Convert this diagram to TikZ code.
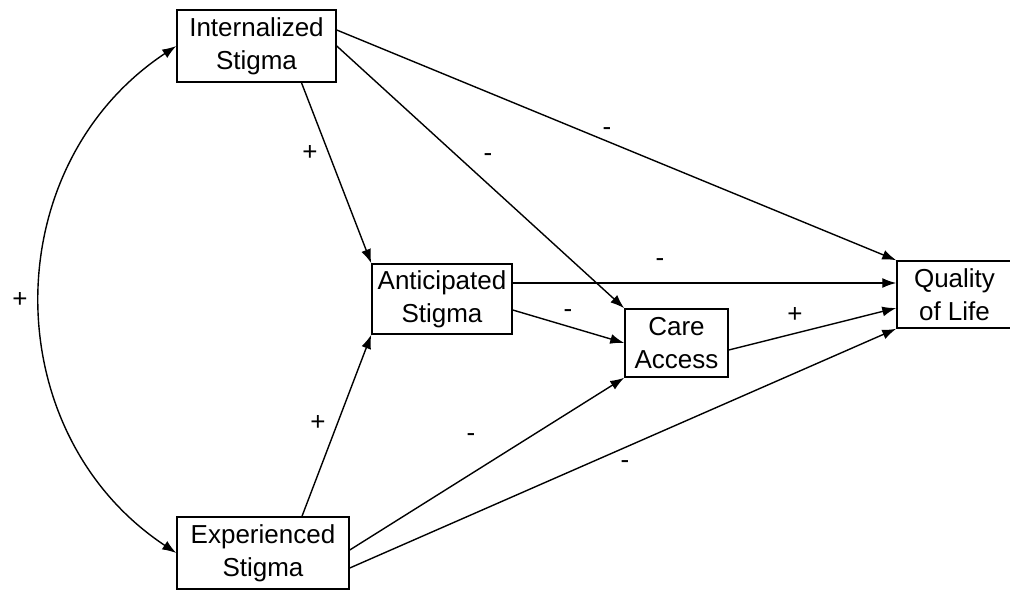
\documentclass[tikz,border=0pt]{standalone}
\usepackage{fontspec}
\setmainfont{Liberation Sans}
\usetikzlibrary{arrows.meta}
\begin{document}
\begin{tikzpicture}[x=1pt,y=-1pt,
  box/.style={draw,line width=1.5pt,inner sep=0pt,align=center,
    font=\fontsize{26}{33}\selectfont},
  arr/.style={line width=1.4pt,-{Latex[length=14pt,width=10pt]}},
  sign/.style={font=\fontsize{26}{30}\selectfont,inner sep=0pt}]
\useasboundingbox (0,0) rectangle (1010,591);
\node[box,minimum width=159pt,minimum height=72pt] (int) at (256.5,46) {Internalized\\Stigma};
\node[box,minimum width=140pt,minimum height=70pt] (ant) at (442,299) {Anticipated\\Stigma};
\node[box,minimum width=103pt,minimum height=68pt] (care) at (676.5,343) {Care\\Access};
\node[box,minimum width=115pt,minimum height=67pt] (qol) at (954.5,294.5) {Quality\\of Life};
\node[box,minimum width=172pt,minimum height=72pt] (exp) at (263,553) {Experienced\\Stigma};
% curved covariance
\draw[arr,{Latex[length=14pt,width=10pt]}-{Latex[length=14pt,width=10pt]}]
  (exp.west) .. controls (-4.7,433) and (-4.7,166) .. (int.west);
\node[sign] (s0) at (20,300) {+};
% paths
\draw[arr] ([yshift=16pt]int.east) -- (qol.north west);
\node[sign] (s1) at (607,132) {-};
\draw[arr] (int.east) -- (care.north west);
\node[sign] (s2) at (488,158) {-};
\draw[arr] ([xshift=45pt]int.south) -- (ant.north west);
\node[sign] (s3) at (310,153) {+};
\draw[arr] ([yshift=16pt]ant.east) coordinate (aq) -- (aq -| qol.west);
\node[sign] (s4) at (660,263) {-};
\draw[arr] ([yshift=-11pt]ant.east) -- (care.west);
\node[sign] (s5) at (568,314) {-};
\draw[arr] ([yshift=-7pt]care.east) -- ([yshift=-13.5pt]qol.west);
\node[sign] (s6) at (795,315) {+};
\draw[arr] ([xshift=39pt]exp.north) -- (ant.south west);
\node[sign] (s7) at (318,423) {+};
\draw[arr] ([yshift=3pt]exp.east) -- (care.south west);
\node[sign] (s8) at (471,438) {-};
\draw[arr] ([yshift=-15pt]exp.east) -- (qol.south west);
\node[sign] (s9) at (625,465) {-};
\end{tikzpicture}
\end{document}
